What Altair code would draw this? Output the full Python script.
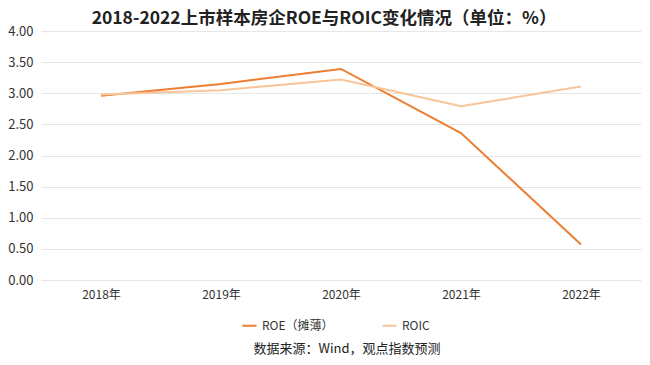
import altair as alt
import pandas as pd

years = ["2018年", "2019年", "2020年", "2021年", "2022年"]
roe = [2.96, 3.15, 3.39, 2.36, 0.57]
roic = [2.98, 3.05, 3.22, 2.79, 3.11]
series_names = ["ROE（摊薄）", "ROIC"]
colors = ["#ED7D31", "#F7C598"]
title_text = "2018-2022上市样本房企ROE与ROIC变化情况（单位：%）"
source_text = "数据来源：Wind，观点指数预测"

rows = []
for i, y in enumerate(years):
    rows.append({"year": y, "series": series_names[0], "value": roe[i]})
    rows.append({"year": y, "series": series_names[1], "value": roic[i]})
df = pd.DataFrame(rows)

FONT = "Noto Sans CJK SC"

lines = alt.Chart(df).mark_line(strokeWidth=2).encode(
    x=alt.X("year:N", sort=years, title=None,
            scale=alt.Scale(paddingInner=0, paddingOuter=0.5),
            axis=alt.Axis(labelAngle=0, domain=False, ticks=False, grid=False,
                          labelFont=FONT, labelFontSize=12, labelColor="#333333",
                          labelPadding=9)),
    y=alt.Y("value:Q", title=None,
            scale=alt.Scale(domain=[0, 4], nice=False),
            axis=alt.Axis(values=[0, 0.5, 1, 1.5, 2, 2.5, 3, 3.5, 4], format=".2f",
                          domain=False, ticks=False, gridColor="#E6E6E6",
                          labelFont=FONT, labelFontSize=13, labelColor="#333333",
                          labelPadding=8)),
    color=alt.Color("series:N", sort=series_names,
                    scale=alt.Scale(domain=series_names, range=colors),
                    legend=alt.Legend(title=None, orient="none", direction="horizontal",
                                      legendX=200, legendY=286, symbolType="stroke",
                                      symbolSize=200, symbolStrokeWidth=2,
                                      labelFont=FONT, labelFontSize=12,
                                      labelColor="#333333", columnPadding=44)),
)

title = alt.Chart(pd.DataFrame({"t": [title_text]})).mark_text(
    font=FONT, fontSize=17.5, fontWeight="bold", color="#222222",
    align="center", baseline="middle"
).encode(text="t:N", x=alt.value(283), y=alt.value(-12))

source = alt.Chart(pd.DataFrame({"t": [source_text]})).mark_text(
    font=FONT, fontSize=13, color="#222222", align="center", baseline="middle"
).encode(text="t:N", x=alt.value(306), y=alt.value(318))

chart = alt.layer(lines, title, source).properties(
    width=600, height=249,
    padding={"left": 33, "top": 23, "right": 1, "bottom": 77},
    autosize=alt.AutoSizeParams(type="none"),
).configure_view(stroke=None)

chart.save("out.html", embed_options={"renderer": "svg", "actions": False})
